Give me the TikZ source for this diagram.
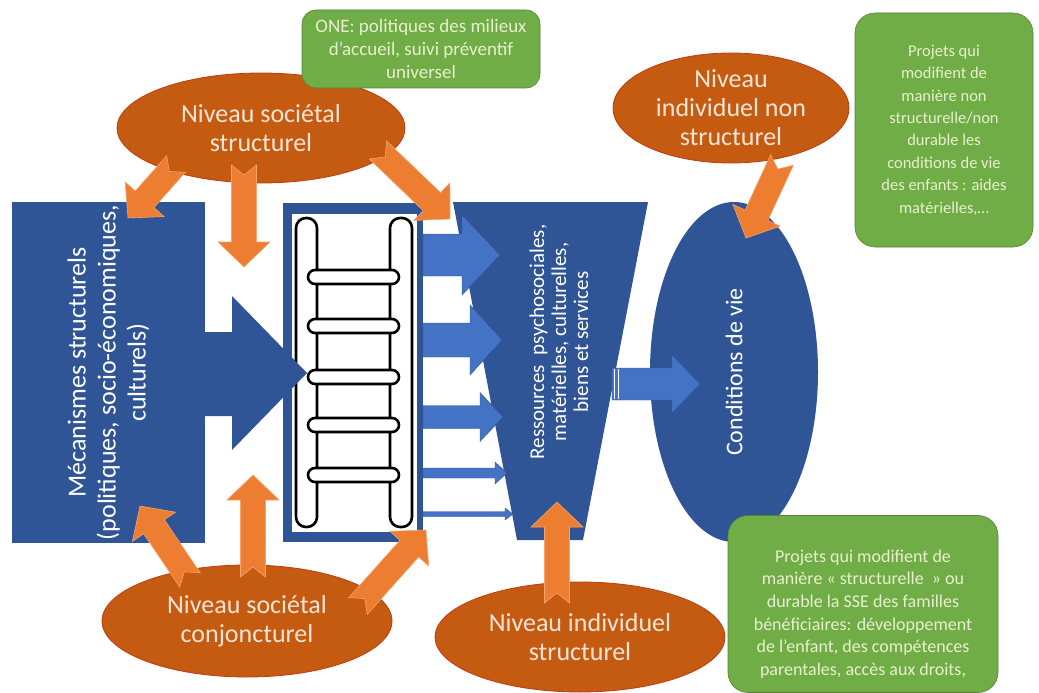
\documentclass[tikz,border=0pt]{standalone}
\usepackage{fontspec}
\setmainfont{Carlito}
\usepackage{tikz}
\usetikzlibrary{calc,shapes.geometric}
\definecolor{mainblue}{RGB}{47,85,151}
\definecolor{lightblue}{RGB}{68,114,196}
\definecolor{darkorange}{RGB}{197,90,17}
\definecolor{arrorange}{RGB}{237,125,49}
\definecolor{rimred}{RGB}{190,60,20}
\definecolor{creamtext}{RGB}{251,229,214}
\definecolor{boxgreen}{RGB}{112,173,71}
\definecolor{boxgreendk}{RGB}{84,130,53}
\definecolor{greentext}{RGB}{232,240,205}

% wide orange arrow with notched tail, from #1 to #2
\newcommand{\fatarrow}[2]{%
  \path let \p1=($(#2)-(#1)$) in
    \pgfextra{\pgfmathsetmacro\fatang{atan2(\y1,\x1)}\pgfmathsetmacro\fatlen{veclen(\x1,\y1)}%
      \global\let\fatang\fatang\global\let\fatlen\fatlen};
  \filldraw[fatarr, shift={(#1)}, rotate=\fatang]
    (0,-12.5) -- ({\fatlen-25},-12.5) -- ({\fatlen-25},-26) -- (\fatlen,0)
    -- ({\fatlen-25},26) -- ({\fatlen-25},12.5) -- (0,12.5) -- (10,0) -- cycle;
}

\begin{document}
\begin{tikzpicture}[
  x=1pt, y=-1pt,
  lvl/.style={ellipse, draw=rimred, line width=0.8pt, fill=darkorange, text=creamtext,
              align=center, inner sep=0pt, font=\fontsize{26}{29}\selectfont},
  greenbox/.style={rectangle, rounded corners=14pt, draw=boxgreendk, line width=0.6pt,
              fill=boxgreen, text=greentext, align=center, font=\fontsize{18}{22.7}\selectfont},
  bluebox/.style={rectangle, fill=mainblue, text=white, align=center, inner sep=0pt},
  fatarr/.style={fill=arrorange, draw=arrorange!70!white, line width=0.6pt},
  thinarr/.style={fill=lightblue, draw=mainblue, line width=0.4pt},
  rail/.style={draw=black, line width=2.6pt, fill=white},
]
\useasboundingbox (0,0) rectangle (1039,693);

% structural mechanisms
\node[bluebox, rotate=90, minimum width=341pt, minimum height=193pt, inner sep=-30pt,
      font=\fontsize{26}{30}\selectfont] (mech) at (108.5,372.5)
  {Mécanismes structurels\\(politiques, socio-économiques,\\culturels)};

% frame with the ladder
\node[bluebox, minimum width=140pt, minimum height=339pt] (frame) at (353,372.5) {};
\fill[white] (292,214) rectangle (417,532);
\draw[rail, rounded corners=10pt] (296,218) rectangle (317,527);
\draw[rail, rounded corners=10pt] (390,218) rectangle (412,527);
\fill[mainblue] (204,332) -- (232,332) -- (232,296) -- (307,373) -- (232,450)
  -- (232,416) -- (204,416) -- cycle;
\foreach \ry in {277,326,377,425,475}
  \draw[rail, rounded corners=7pt] (308,\ry-7) rectangle (399,\ry+7);

% resources
\fill[mainblue] (453,202) -- (648,202) -- (583,540) -- (517,540) -- cycle;
\node[rotate=90, text=white, align=center, font=\fontsize{21}{22}\selectfont] (res) at (559,342)
  {Ressources\ \ psychosociales,\\matérielles, culturelles,\\biens et services};
\foreach \yc/\xh/\xt/\sw/\hw in {255/462/500/21/40, 340/470/502/17/35,
    417/480/503/11.5/24.5, 473/495/507/5/11, 514/505/513/2.5/6}
  \filldraw[thinarr] (423,\yc-\sw) -- (\xh,\yc-\sw) -- (\xh,\yc-\hw) -- (\xt,\yc)
    -- (\xh,\yc+\hw) -- (\xh,\yc+\sw) -- (423,\yc+\sw) -- cycle;

% living conditions
\node[ellipse, fill=mainblue, rotate=90, minimum width=340pt, minimum height=168pt,
      text=white, font=\fontsize{24}{28}\selectfont] (cond) at (734,372) {Conditions de vie};
\filldraw[thinarr] (612,368) -- (672,368) -- (672,355) -- (700,384) -- (672,413)
  -- (672,400) -- (612,400) -- cycle;
\draw[white, line width=0.8pt] (614,369) -- (614,399) (618,369) -- (618,399);

% levels
\node[lvl, minimum width=288pt, minimum height=110pt] (soc) at (261,128) {Niveau sociétal\\structurel};
\node[lvl, minimum width=290pt, minimum height=112pt] (conj) at (247,621) {Niveau sociétal\\conjoncturel};
\node[lvl, minimum width=290pt, minimum height=110pt] (indiv) at (580,637) {Niveau individuel\\structurel};
\node[lvl, minimum width=236pt, minimum height=110pt, inner sep=-5pt] (nonstr) at (731,108)
  {Niveau\\individuel non\\structurel};

% arrow ends
\coordinate (s1) at (176,164); \coordinate (t1) at (128,218);
\coordinate (s2) at (244,165); \coordinate (t2) at (244,267);
\coordinate (s3) at (378,150); \coordinate (t3) at (450,219);
\coordinate (s4) at (190,580); \coordinate (t4) at (140,506);
\coordinate (s5) at (253,577); \coordinate (t5) at (253,475);
\coordinate (s6) at (358,606); \coordinate (t6) at (426,530);
\coordinate (s7) at (557,603); \coordinate (t7) at (557,502);
\coordinate (s8) at (782,160); \coordinate (t8) at (746,238);
\foreach \k in {1,...,8} {\fatarrow{s\k}{t\k}}

% projects
\node[greenbox, minimum width=238pt, minimum height=78pt, font=\fontsize{19}{23}\selectfont]
  (one) at (421,49) {ONE: politiques des milieux\\d’accueil, suivi préventif\\universel};
\node[greenbox, rounded corners=20pt, minimum width=178pt, minimum height=234pt,
      font=\fontsize{16.5}{22.4}\selectfont] (proj1) at (944,130)
  {Projets qui\\modifient de\\manière non\\structurelle/non\\durable les\\conditions de vie\\des enfants : aides\\matérielles,…};
\node[greenbox, rounded corners=20pt, minimum width=270pt, minimum height=177pt] (proj2) at (863,604) {};
\node[text=greentext, align=center, font=\fontsize{18}{22.7}\selectfont] (proj2txt) at ($(proj2.center)+(0,10)$)
  {Projets qui modifient de\\manière « structurelle\ \ » ou\\durable la SSE des familles\\bénéficiaires: développement\\de l’enfant, des compétences\\parentales, accès aux droits,};
\end{tikzpicture}
\end{document}
